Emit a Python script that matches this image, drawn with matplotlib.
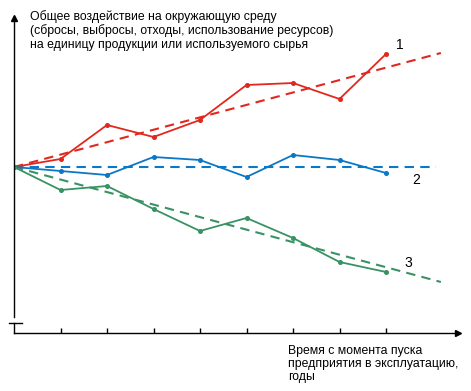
import matplotlib
matplotlib.use("Agg")
import matplotlib.pyplot as plt

plt.rcParams['font.family'] = ['Liberation Sans', 'DejaVu Sans']

# Data (years since start; impact index relative to start level)
years = [0, 1, 2, 3, 4, 5, 6, 7, 8]
impact_1 = [0, 0.8, 4.2, 3.0, 4.7, 8.2, 8.4, 6.8, 11.3]
impact_2 = [0, -0.4, -0.8, 1.0, 0.7, -1.0, 1.2, 0.7, -0.6]
impact_3 = [0, -2.3, -1.9, -4.2, -6.4, -5.1, -7.1, -9.5, -10.5]
trend_x = [0, 9.18]
trend_1 = [0, 11.4]
trend_2_x = [0, 9.08]
trend_2 = [0, 0]
trend_3 = [0, -11.5]
series_labels = ['1', '2', '3']
y_title = ("Общее воздействие на окружающую среду\n"
           "(сбросы, выбросы, отходы, использование ресурсов)\n"
           "на единицу продукции или используемого сырья")
x_title = "Время с момента пуска\nпредприятия в эксплуатацию,\nгоды"

RED = '#e2281e'
BLUE = '#0a78c8'
GREEN = '#3a9264'

W, H = 471, 391
fig = plt.figure(figsize=(W / 100, H / 100), dpi=100)
# axes in pixel geometry: x 14..458, y 18..333 (from top)
ax = fig.add_axes([14 / W, (H - 333) / H, (458 - 14) / W, (333 - 18) / H])
ax.set_xlim(0, (458 - 14) / 46.5)
ax.set_ylim((167 - 333) / 10, (167 - 18) / 10)
ax.patch.set_visible(False)

for s in ['top', 'right']:
    ax.spines[s].set_visible(False)
ax.spines['left'].set_bounds((167 - 317) / 10, (167 - 18) / 10)
ax.spines['left'].set_linewidth(1.0)
ax.spines['bottom'].set_linewidth(1.0)
ax.set_xticks(years[1:])
ax.set_xticklabels([])
ax.set_yticks([])
ax.tick_params(axis='x', direction='in', length=3.3, width=1.0)

# axis break decoration and arrowheads
ax.plot([0, 0], [0, 10 / 315], transform=ax.transAxes, color='black', lw=1.0, clip_on=False)
ax.plot([-5 / 444, 8 / 444], [10 / 315, 10 / 315], transform=ax.transAxes, color='black', lw=1.0, clip_on=False)
ax.plot([0], [1], marker='^', ms=4, color='black', transform=ax.transAxes, clip_on=False)
ax.plot([1], [0], marker='>', ms=4, color='black', transform=ax.transAxes, clip_on=False)

# trends (dashed)
ax.plot(trend_x, trend_1, color=RED, lw=1.5, dashes=(4.5, 3))
ax.plot(trend_2_x, trend_2, color=BLUE, lw=1.5, dashes=(4.5, 3))
ax.plot(trend_x, trend_3, color=GREEN, lw=1.5, dashes=(4.5, 3))

# actual series
ax.plot(years, impact_1, color=RED, lw=1.3, marker='o', ms=2.6)
ax.plot(years, impact_2, color=BLUE, lw=1.3, marker='o', ms=2.6)
ax.plot(years, impact_3, color=GREEN, lw=1.3, marker='o', ms=2.6)

# series labels
ax.text(8.3, 12.2, series_labels[0], fontsize=10, ha='center', va='center')
ax.text(8.65, -1.3, series_labels[1], fontsize=10, ha='center', va='center')
ax.text(8.47, -9.6, series_labels[2], fontsize=10, ha='center', va='center')

fig.text(30 / W, 1 - 10 / H, y_title, fontsize=8.8, ha='left', va='top', linespacing=1.14)
fig.text(288 / W, 1 - 345 / H, x_title, fontsize=8.8, ha='left', va='top', linespacing=1.1)

fig.savefig('out.png', dpi=100)
